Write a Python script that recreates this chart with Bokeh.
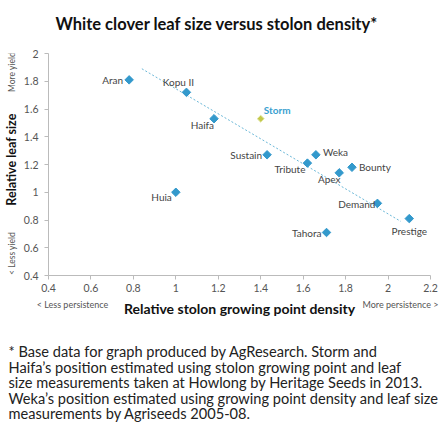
from bokeh.plotting import figure
from bokeh.models import Label, Range1d, ColumnDataSource, FixedTicker
from bokeh.layouts import column, row
from bokeh.core.properties import value
from bokeh.embed import file_html
from bokeh.resources import INLINE
import math

# ---- data ----
cultivars = ["Aran", "Kopu II", "Haifa", "Storm", "Sustain", "Weka", "Tribute",
             "Apex", "Bounty", "Huia", "Demand", "Prestige", "Tahora"]
stolon_density = [0.78, 1.05, 1.18, 1.40, 1.43, 1.66, 1.62, 1.77, 1.83, 1.00, 1.95, 2.10, 1.71]
leaf_size = [1.81, 1.72, 1.53, 1.53, 1.27, 1.27, 1.21, 1.14, 1.18, 1.00, 0.92, 0.81, 0.71]
highlight = "Storm"
trend_x = [0.84, 2.06]
trend_y = [1.89, 0.79]
x_ticks = [0.4, 0.6, 0.8, 1.0, 1.2, 1.4, 1.6, 1.8, 2.0, 2.2]
x_tick_labels = ["0.4", "0.6", "0.8", "1", "1.2", "1.4", "1.6", "1.8", "2", "2.2"]
y_ticks = [0.4, 0.6, 0.8, 1.0, 1.2, 1.4, 1.6, 1.8, 2.0]
y_tick_labels = ["0.4", "0.6", "0.8", "1", "1.2", "1.4", "1.6", "1.8", "2"]
title_text = "White clover leaf size versus stolon density*"
x_title = "Relative stolon growing point density"
y_title = "Relative leaf size"
x_low, x_high = "< Less persistence", "More persistence >"
y_low, y_high = "< Less yield", "More yield >"
footnote = [
    "* Base data for graph produced by AgResearch. Storm and",
    "Haifa\u2019s position estimated using stolon growing point and leaf",
    "size measurements taken at Howlong by Heritage Seeds in 2013.",
    "Weka\u2019s position estimated using growing point density and leaf size",
    "measurements by Agriseeds 2005-08.",
]

# ---- label placement (style) ----
label_layout = {
    "Aran": ("right", -6, 0),
    "Kopu II": ("center", -8, -10),
    "Haifa": ("right", 0, 6),
    "Storm": ("left", 3, -9),
    "Sustain": ("right", -5, 0),
    "Weka": ("left", 7, -3),
    "Tribute": ("right", -2, 6),
    "Apex": ("center", -10, 6),
    "Bounty": ("left", 7, 0),
    "Huia": ("right", -4, 5),
    "Demand": ("right", -2, 1),
    "Prestige": ("center", 0, 12),
    "Tahora": ("right", -5, 1),
}

FONT = "Lato"
BLUE = "#3399cc"
GREEN = "#c3c84a"
TEXT = "#444444"
GRAY = "#555555"
DARK = "#111111"

TOTAL_W, TOTAL_H = 443, 427
SW = 20            # left strip width
H1 = 342           # height of chart row
FRAME_L, FRAME_R, FRAME_T, FRAME_B = 46, 430, 53, 275


def blank(width, height):
    f = figure(width=width, height=height, output_backend="svg", toolbar_location=None,
               x_range=Range1d(0, 1), y_range=Range1d(0, 1),
               x_axis_location=None, y_axis_location=None, min_border=0,
               background_fill_color="white", border_fill_color="white")
    f.outline_line_color = None
    f.grid.visible = False
    return f


def lab(fig, place, text, x, y, size, color, style="normal", align="center", angle=0.0):
    lbl = Label(text=text, x=x, y=y, x_units="canvas", y_units="canvas",
                text_font=FONT, text_font_size=size, text_color=color,
                text_font_style=style, text_align=align, text_baseline="middle",
                angle=angle)
    if place == "center":
        fig.add_layout(lbl)
    else:
        fig.add_layout(lbl, place)


# ---- main chart ----
p = figure(width=TOTAL_W - SW, height=H1, output_backend="svg", toolbar_location=None,
           x_range=Range1d(0.4, 2.2), y_range=Range1d(0.4, 2.0),
           min_border_left=FRAME_L - SW, min_border_right=TOTAL_W - FRAME_R,
           min_border_top=FRAME_T, min_border_bottom=H1 - FRAME_B,
           background_fill_color="white", border_fill_color="white")
p.outline_line_color = None
p.grid.visible = False

for ax, ticks, labels in ((p.xaxis[0], x_ticks, x_tick_labels), (p.yaxis[0], y_ticks, y_tick_labels)):
    ax.ticker = FixedTicker(ticks=ticks)
    ax.major_label_overrides = {t: s for t, s in zip(ticks, labels)}
    ax.axis_line_color = "#bbbbbb"
    ax.major_tick_line_color = "#bbbbbb"
    ax.major_tick_out = 4
    ax.major_tick_in = 0
    ax.minor_tick_line_color = None
    ax.major_label_text_font = FONT
    ax.major_label_text_font_size = "10.5px"
    ax.major_label_text_color = GRAY
    ax.axis_label_text_font = FONT
    ax.axis_label_text_font_style = "bold"
    ax.axis_label_text_font_size = "14px"
    ax.axis_label_text_color = DARK
p.xaxis[0].major_label_standoff = 4
p.yaxis[0].major_label_standoff = 6
p.xaxis[0].axis_label = x_title
p.xaxis[0].axis_label_standoff = 5

# trend line
p.line(trend_x, trend_y, line_color="#6bb8d8", line_width=1, line_dash="2 2")

colors = [GREEN if c == highlight else BLUE for c in cultivars]
line_colors = ["#e4e8a8" if c == highlight else BLUE for c in cultivars]
sizes = [5 if c == highlight else 6 for c in cultivars]
src = ColumnDataSource(dict(
    x=stolon_density, y=leaf_size, name=cultivars, fill=colors, lc=line_colors, size=sizes,
    align=[label_layout[c][0] for c in cultivars],
    dx=[label_layout[c][1] for c in cultivars],
    dy=[label_layout[c][2] for c in cultivars],
    tc=["#3aa0d0" if c == highlight else TEXT for c in cultivars],
    tw=["bold" if c == highlight else "normal" for c in cultivars],
))
p.scatter("x", "y", source=src, marker="square", angle=math.pi / 4, size="size",
          fill_color="fill", line_color="lc", line_width=1)
p.text("x", "y", text="name", source=src, text_align="align", x_offset="dx", y_offset="dy",
       text_baseline="middle", text_font=value(FONT), text_font_size="10px",
       text_color="tc", text_font_style="tw")

lab(p, "above", title_text, 55 - SW, 23, "16.5px", DARK, "bold", align="left")
lab(p, "below", x_low, 72 - SW, 304, "9px", GRAY)
lab(p, "below", x_high, 400 - SW, 304, "9px", GRAY)

# ---- left strip with the vertical titles ----
s = blank(SW, H1)
lab(s, "center", y_title, 11, 159, "12.5px", DARK, "bold", angle=math.pi / 2)
lab(s, "center", y_high, 11, 68, "8.5px", GRAY, angle=math.pi / 2)
lab(s, "center", y_low, 11, 253, "8.5px", GRAY, angle=math.pi / 2)

# ---- footnote ----
n = blank(TOTAL_W, TOTAL_H - H1)
for i, line in enumerate(footnote):
    lab(n, "center", line, 8, 351 - H1 + i * 15.6, "14.6px", "#222222", align="left")

layout = column(row(s, p), n)
open("out.html", "w").write(file_html(layout, INLINE))
